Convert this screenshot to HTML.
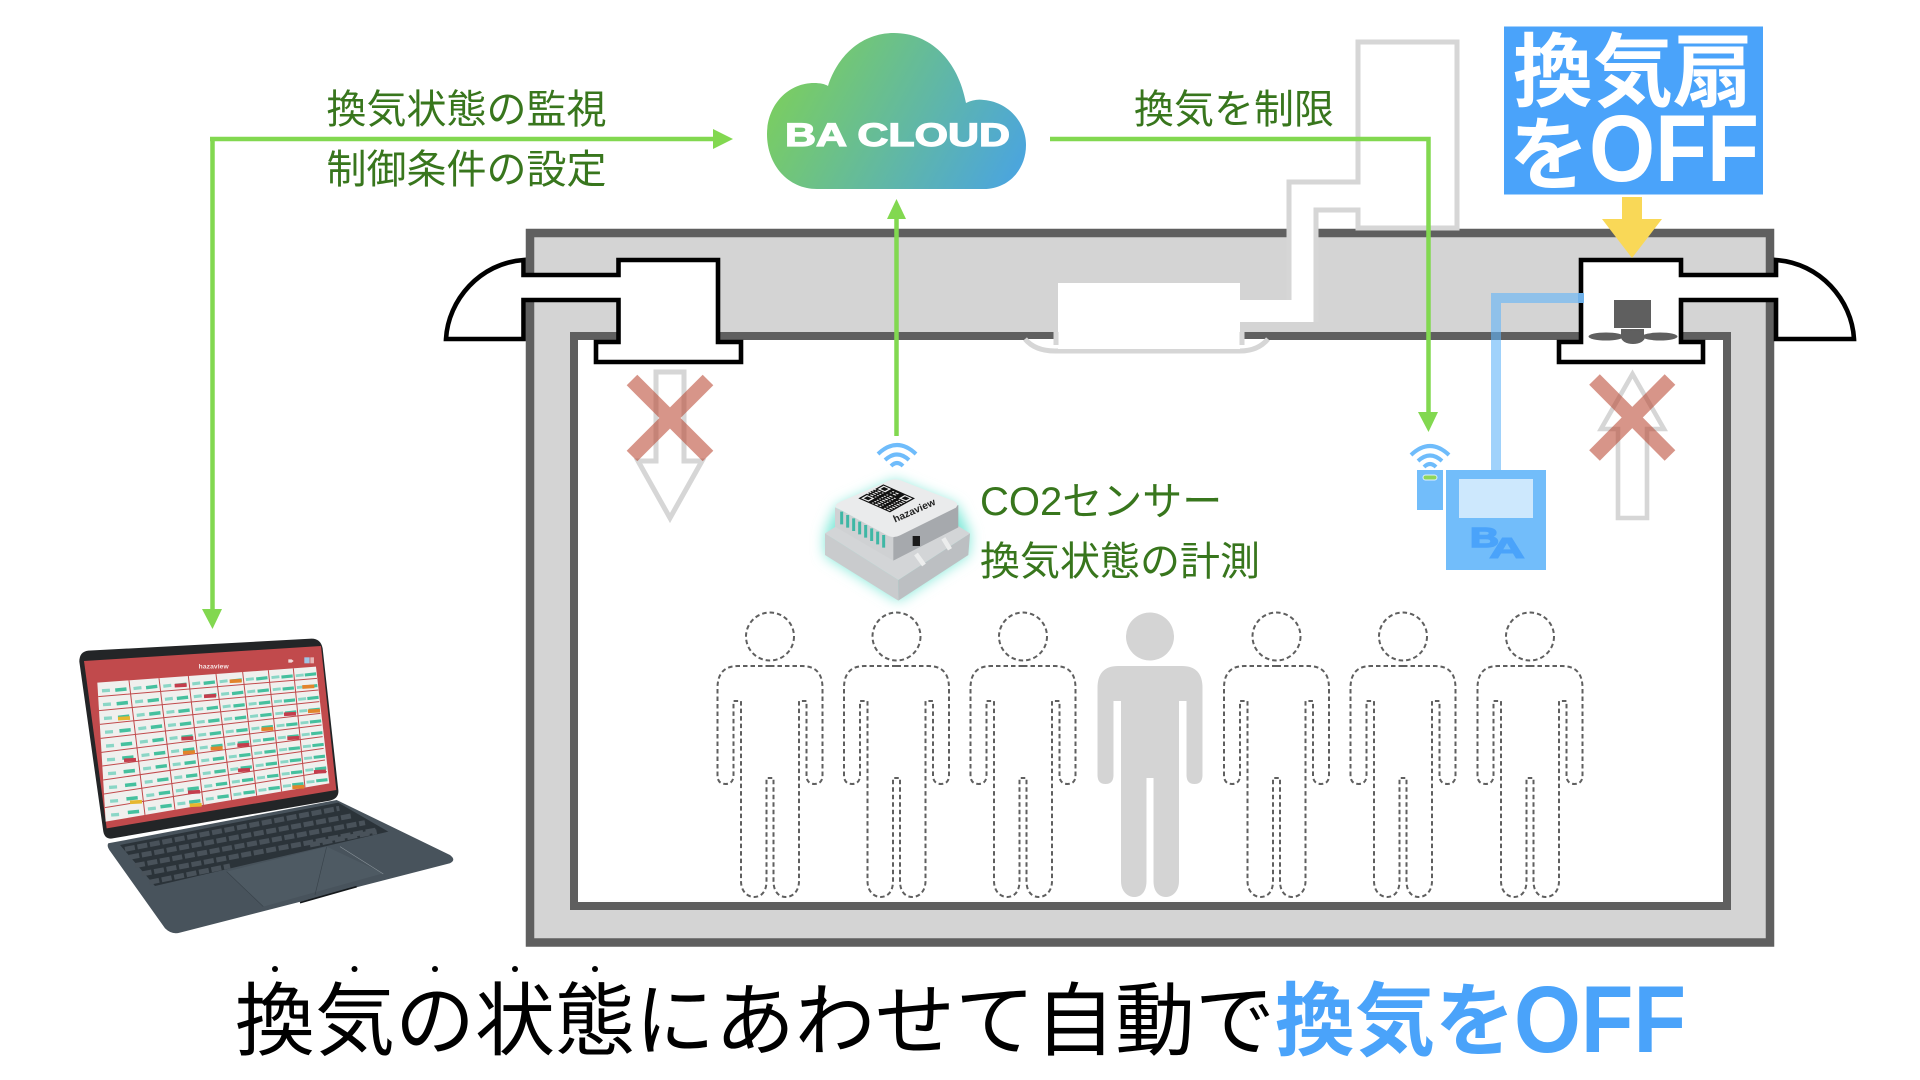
<!DOCTYPE html>
<html><head><meta charset="utf-8"><style>
html,body{margin:0;padding:0;background:#fff;width:1920px;height:1080px;overflow:hidden}
svg{display:block}
text{font-family:"Liberation Sans","Noto Sans CJK JP",sans-serif}
</style></head><body>
<svg width="1920" height="1080" viewBox="0 0 1920 1080" xmlns="http://www.w3.org/2000/svg">
<defs>
<linearGradient id="cg" gradientUnits="userSpaceOnUse" x1="790" y1="70" x2="1010" y2="190"><stop offset="0" stop-color="#7acd62"/><stop offset="1" stop-color="#4ba5de"/></linearGradient>
<path id="p" d="M0 666H-32Q-52.5 666-52.5 688V775Q-52.5 784-44.5 784Q-36.5 784-36.5 775V701H-29V881C-29 892-22 897-16 897C-9 897-3.5 892-3.5 881V778H3.5V881C3.5 892 9 897 16 897C22 897 29 892 29 881V701H36.5V775Q36.5 784 44.5 784Q52.5 784 52.5 775V688Q52.5 666 32 666Z"/>
<g id="w" fill="none" stroke="#6fbcfb" stroke-width="4"><path d="M878 454Q897 436 916 454"/><path d="M885 460Q897 449 909 460"/><path d="M891 466Q897 460 903 466"/></g>
<filter id="gl" x="-30%" y="-30%" width="160%" height="160%"><feGaussianBlur stdDeviation="20"/></filter>
<g id="dp"><circle cx="0" cy="636.5" r="24" fill="#fff" stroke="#5f5f5f" stroke-width="2" stroke-dasharray="4.5 3"/><use href="#p" fill="#fff" stroke="#5f5f5f" stroke-width="2" stroke-dasharray="4.5 3"/></g>
</defs>
<rect width="1920" height="1080" fill="#fff"/>

<!-- building -->
<rect x="530" y="233" width="1240" height="709.5" fill="#d4d4d4" stroke="#5f5f5f" stroke-width="8.5"/>
<rect x="574" y="336" width="1153" height="570" fill="#fff" stroke="#5f5f5f" stroke-width="8"/>

<!-- AC duct -->
<path d="M1289 182H1358V42H1457V228H1358V210H1316V322H1240V345H1058V283H1240V300H1289Z" fill="#fff"/>
<path d="M1025 339Q1035 351 1055 351H1240Q1258 351 1268 339" fill="#fff" stroke="#d6d6d6" stroke-width="5"/>
<rect x="1058" y="325" width="182" height="24" fill="#fff"/>
<path d="M1289 300V182H1358V42H1457V228H1358V210H1316V322M1056 332V345M1242 332V345" fill="none" stroke="#d6d6d6" stroke-width="5"/>

<!-- left vent -->
<path d="M523.5 260C480 263 448 300 446 339H523.5V300H618.5V342H596V362H741V342H718V260H618.5V275H523.5Z" fill="#fff" stroke="#000" stroke-width="4.6"/>
<rect x="521" y="277.5" width="5" height="20" fill="#fff"/>
<!-- right vent -->
<path d="M1776 260C1820 263 1852 300 1854 339H1776V300H1681V342H1703V362H1559V342H1581V260H1681V275H1776Z" fill="#fff" stroke="#000" stroke-width="4.6"/>
<rect x="1774" y="277.5" width="5" height="20" fill="#fff"/>
<!-- fan -->
<g fill="#5f5f5f"><rect x="1614" y="300" width="37" height="28"/><rect x="1621" y="329" width="23" height="9"/><ellipse cx="1633" cy="337" rx="12" ry="7"/><ellipse cx="1606" cy="336.5" rx="17.5" ry="4"/><ellipse cx="1660" cy="336.5" rx="17.5" ry="4"/></g>

<!-- hollow arrows -->
<path d="M656 372H684V461H702L670 518L638 461H656Z" fill="#fff" stroke="#d6d6d6" stroke-width="5"/>
<path d="M1618 518H1647V429H1664L1632.5 374L1601 429H1618Z" fill="#fff" stroke="#d6d6d6" stroke-width="4.6"/>
<!-- red X -->
<path d="M632 380L708 456M708 380L632 456" fill="none" stroke="#b8442f" stroke-width="15" opacity=".57"/>
<path d="M1594.5 379.5L1670 455.5M1670 379.5L1594.5 455.5" fill="none" stroke="#b8442f" stroke-width="15" opacity=".57"/>

<!-- people -->
<use href="#dp" x="770"/><use href="#dp" x="896.5"/><use href="#dp" x="1023"/>
<circle cx="1150" cy="636.5" r="24" fill="#d4d4d4"/><use href="#p" x="1150" fill="#d4d4d4"/>
<use href="#dp" x="1276.5"/><use href="#dp" x="1403"/><use href="#dp" x="1530"/>

<!-- blue wire -->
<path d="M1496 470V298H1583" fill="none" stroke="#61b4f8" stroke-width="10" opacity=".6"/>
<rect x="1578" y="293" width="6" height="10" fill="#6fb0e8"/>

<!-- controller -->
<rect x="1446" y="470" width="100" height="100" fill="#72bdfa"/>
<rect x="1459" y="479" width="74" height="39" fill="#cde8fd"/>
<text x="1470" y="547" font-size="28" font-weight="bold" fill="#4aa3fa" stroke="#4aa3fa" stroke-width="1.5" textLength="29" lengthAdjust="spacingAndGlyphs">B</text>
<text x="1489" y="558" font-size="29" font-weight="bold" fill="#4aa3fa" stroke="#4aa3fa" stroke-width="1" textLength="36" lengthAdjust="spacingAndGlyphs">A</text>
<rect x="1417" y="470" width="26" height="40" fill="#72bdfa"/>
<rect x="1423" y="475" width="14" height="5" rx="2.5" fill="#8fd65a" stroke="#dff0ff" stroke-width="1"/>
<use href="#w" transform="translate(533,1)"/>

<!-- green connectors -->
<path d="M210 139H715" fill="none" stroke="#82d850" stroke-width="4.5"/>
<path d="M212.5 137V611" fill="none" stroke="#82d850" stroke-width="4.5"/>
<path d="M713 129L733 139L713 149Z" fill="#82d850"/>
<path d="M202 609H222L212.5 629Z" fill="#82d850"/>
<path d="M896.5 436V217" fill="none" stroke="#82d850" stroke-width="4.5"/>
<path d="M887 219H906L896.5 199Z" fill="#82d850"/>
<path d="M1050 139H1428.5V414" fill="none" stroke="#82d850" stroke-width="4.5"/>
<path d="M1418 412H1438L1428.5 432Z" fill="#82d850"/>

<!-- cloud -->
<path d="M817 189C788 189 767 165 767 134C767 105 788 83 814 83C820 83 825 84 828 86C838 55 862 33 894 33C930 33 958 60 966 103C972 100 978 99 984 100C1008 102 1026 122 1026 145C1026 170 1008 189 984 189Z" fill="url(#cg)"/>
<text x="785" y="146" font-size="32" font-weight="bold" fill="#fff" stroke="#fff" stroke-width="1.2" textLength="225" lengthAdjust="spacingAndGlyphs">BA CLOUD</text>

<!-- green labels -->
<g font-size="40" fill="#38761d">
<text x="326.5" y="123">換気状態の監視</text>
<text x="326.5" y="183">制御条件の設定</text>
<text x="1134" y="123">換気を制限</text>
<text x="980" y="515">CO2センサー</text>
<text x="980" y="575">換気状態の計測</text>
</g>

<!-- blue box -->
<rect x="1504" y="26.5" width="259" height="168" fill="#4aa3fa"/>
<text x="1513" y="100" font-size="80" font-weight="bold" fill="#fff">換気扇</text>
<text x="1509" y="183" font-size="80" font-weight="bold" fill="#fff">を</text>
<text x="1589" y="181" font-size="95" font-weight="bold" fill="#fff" textLength="170" lengthAdjust="spacingAndGlyphs">OFF</text>
<!-- yellow arrow -->
<path d="M1622 197H1642V219H1662L1632 258L1602 219H1622Z" fill="#f9d857"/>

<!-- bottom caption -->
<g fill="#000"><circle cx="275" cy="969" r="3"/><circle cx="354.5" cy="969" r="3"/><circle cx="435" cy="969" r="3"/><circle cx="515" cy="969" r="3"/><circle cx="595" cy="969" r="3"/></g>
<text x="235" y="1049" font-size="80" fill="#000">換気の状態にあわせて自動で</text>
<text x="1275" y="1049" font-size="80" font-weight="bold" fill="#4aa3fa">換気を</text>
<text x="1514" y="1052" font-size="95" font-weight="bold" fill="#4aa3fa" textLength="172" lengthAdjust="spacingAndGlyphs">OFF</text>

<!-- sensor -->
<use href="#w"/>
<g transform="translate(800,430) scale(.3333)">
<path d="M110 230L285 150L470 225L510 310L505 375L295 512L75 375V310Z" fill="#7fe8d8" filter="url(#gl)"/>
<path d="M75 310L295 450V512L75 375Z" fill="#c9cbcd"/>
<path d="M295 450L510 310L505 375L295 512Z" fill="#bcbfc2"/>
<path d="M75 310L115 285L470 285L510 310L295 450Z" fill="#d3d5d7"/>
<path d="M105 232L280 322V392L105 290Z" fill="#cfd1d3"/>
<path d="M280 322L475 225L475 292L280 392Z" fill="#a6a9ad"/>
<path d="M108 232Q102 224 122 215L268 151Q285 145 302 151L462 213Q478 222 468 233L300 316Q280 326 262 316Z" fill="#eaebec"/>
<g stroke="#3fb7a5" stroke-width="9" fill="none"><path d="M125 245V283M143 255V293M161 265V303M179 275V313M197 285V323M215 295V333M233 305V343M251 315V353"/></g>
<rect x="338" y="318" width="22" height="30" fill="#1a1a1a"/>
<path d="M348 372L372 405M430 325L450 358" stroke="#eceded" stroke-width="14" fill="none"/>
<g transform="matrix(4.52 2 -3.57 2 250 163)">
<rect width="21" height="21" fill="#111"/>
<g stroke="#eee" stroke-width="1" fill="none">
<path d="M8 2.5h5M8 4.5h5M0 7.5h21M0 9.5h21M0 11.5h21M0 13.5h21M8 15.5h13M8 17.5h13M8 19.5h13" stroke-dasharray="1 1 2 1 1 2"/>
<path d="M1.5 1.5h4v4h-4zM15.5 1.5h4v4h-4zM1.5 15.5h4v4h-4z"/>
</g></g>
<text transform="translate(285,278) rotate(-24)" font-size="30" font-weight="bold" fill="#222" textLength="135" lengthAdjust="spacingAndGlyphs">hazaview</text>
</g>

<!-- laptop -->
<g transform="translate(60,620) scale(.3333)">
<path d="M145 670L830 540L1170 705Q1190 720 1170 730L360 938Q335 945 315 925L148 690Q140 678 145 670Z" fill="#48535c"/>
<path d="M180 675L835 548L985 635L285 798Z" fill="#2b3339"/>
<g fill="none" stroke="#49525a" stroke-width="15" stroke-dasharray="30 8">
<path d="M195 688L838 565"/><path d="M208 712L878 587"/><path d="M225 737L915 608"/><path d="M245 762L950 630"/><path d="M268 787L510 738"/><path d="M750 675L950 635"/></g>
<path d="M500 755L800 680L970 760L610 860Z" fill="#4e5a63"/>
<path d="M500 755L610 860M800 680L765 825M840 680L970 762" fill="none" stroke="#39434b" stroke-width="2"/>
<path d="M840 680L970 762" fill="none" stroke="#8a949b" stroke-width="2"/>
<path d="M720 848L890 800" fill="none" stroke="#15191c" stroke-width="5"/>
<path d="M85 92L755 56Q782 56 788 85L835 510Q838 535 810 542L160 655Q135 660 130 635L58 125Q58 95 85 92Z" fill="#232527"/>
<path d="M72 123L783 78L829 510L140 625Z" fill="#c14a4c"/>
<path d="M112 188L768 140L808 490L137 605Z" fill="#f0f0ee"/>
<g fill="none" stroke="#c14a4c" stroke-width="3">
<path d="M207 181L255 585M297 174.5L345 569M385 168L430 555M468 162L515 540M548 156L590 527M625 150.5L665 514.5M700 145L735 502.5"/>
<path d="M114.5 230L771 175M117 272L775 210M119.5 313L778 245M122 355L781 280M124.5 397L785 315M127 438L788 350M129.5 480L791 385M132 522L795 420M134.5 563L801 455"/>
</g>
<g fill="none" stroke="#45c09e" stroke-width="34" stroke-dasharray=".26 .74" stroke-dashoffset="-.5">
<path pathLength="10" d="M180 183L222 591"/><path pathLength="10" d="M272 176L320 573"/><path pathLength="10" d="M360 170L406 559"/><path pathLength="10" d="M445 164L491 544"/><path pathLength="10" d="M526 158L569 531"/><path pathLength="10" d="M603 152L644 518"/><path pathLength="10" d="M679 147L715 506"/><path pathLength="10" d="M749 141L787 494"/>
</g>
<g fill="none" stroke="#8ad6c6" stroke-width="24" stroke-dasharray=".24 .76" stroke-dashoffset="-.5">
<path pathLength="10" d="M136 186L166.5 600"/><path pathLength="10" d="M229.5 179.4L277.5 581"/><path pathLength="10" d="M319 173L366 565.5"/><path pathLength="10" d="M406 166.5L451 551"/><path pathLength="10" d="M488 160.5L534 537"/><path pathLength="10" d="M567 154.6L609 524"/><path pathLength="10" d="M644 149L682.5 511.5"/><path pathLength="10" d="M717 144L753 499"/>
</g>
<g fill="none" stroke-width="11">
<path stroke="#c43d4c" d="M344 197L380 195M432 229L468 227M672 283L708 281M192 421L228 419M532 376L568 374M364 356L400 354M682 355L718 353M534 451L570 449M762 456L798 454M384 517L420 515"/>
<path stroke="#e2842b" d="M509 184L545 182M727 201L763 199M744 274L780 272M604 328L640 326M452 386L488 384M369 398L405 396M697 502L733 500"/>
<path stroke="#e6b72e" d="M174 296L210 294M210 547L246 545M389 556L425 554"/>
</g>
<text x="416" y="146" font-size="20" font-weight="bold" fill="#f5e3e3" textLength="90">hazaview</text>
<rect x="733" y="112" width="16" height="18" fill="#9fc4e4"/><rect x="751" y="112" width="11" height="18" fill="#e5b3b3"/>
<path d="M685 118h10l6 5-6 5h-10z" fill="#f0d8d8"/>
</g>
</svg>
</body></html>
